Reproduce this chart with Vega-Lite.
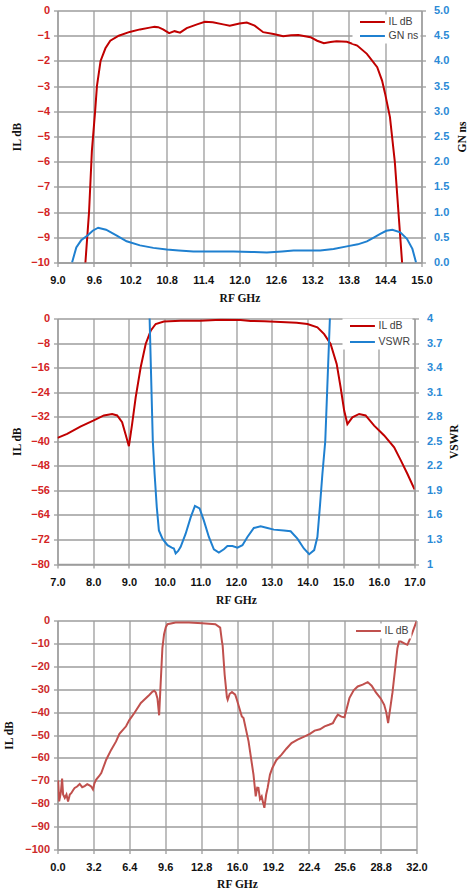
{
  "$schema": "https://vega.github.io/schema/vega-lite/v6.json",
  "background": "white",
  "padding": {"left": 3.5, "top": 4.5, "right": 0, "bottom": 0},
  "bounds": "flush",
  "spacing": 56,
  "datasets": {
    "p1il": [
      {"ghz": 9.4, "db": -12}, {"ghz": 9.46, "db": -10}, {"ghz": 9.52, "db": -8}, {"ghz": 9.567, "db": -5.56},
      {"ghz": 9.62, "db": -4}, {"ghz": 9.65, "db": -3}, {"ghz": 9.71, "db": -2}, {"ghz": 9.79, "db": -1.5},
      {"ghz": 9.87, "db": -1.2}, {"ghz": 10.01, "db": -1.0}, {"ghz": 10.19, "db": -0.85}, {"ghz": 10.36, "db": -0.75},
      {"ghz": 10.52, "db": -0.68}, {"ghz": 10.6, "db": -0.65}, {"ghz": 10.66, "db": -0.66}, {"ghz": 10.74, "db": -0.75},
      {"ghz": 10.84, "db": -0.9}, {"ghz": 10.93, "db": -0.82}, {"ghz": 11.02, "db": -0.88}, {"ghz": 11.13, "db": -0.7},
      {"ghz": 11.3, "db": -0.55}, {"ghz": 11.43, "db": -0.45}, {"ghz": 11.56, "db": -0.47}, {"ghz": 11.73, "db": -0.55},
      {"ghz": 11.84, "db": -0.6}, {"ghz": 12.0, "db": -0.52}, {"ghz": 12.12, "db": -0.48}, {"ghz": 12.25, "db": -0.6},
      {"ghz": 12.39, "db": -0.86}, {"ghz": 12.56, "db": -0.93}, {"ghz": 12.72, "db": -1.02}, {"ghz": 12.85, "db": -0.98},
      {"ghz": 12.97, "db": -0.97}, {"ghz": 13.17, "db": -1.06}, {"ghz": 13.28, "db": -1.2}, {"ghz": 13.39, "db": -1.3},
      {"ghz": 13.5, "db": -1.25}, {"ghz": 13.6, "db": -1.22}, {"ghz": 13.77, "db": -1.24}, {"ghz": 13.94, "db": -1.39},
      {"ghz": 14.1, "db": -1.72}, {"ghz": 14.27, "db": -2.25}, {"ghz": 14.35, "db": -2.78}, {"ghz": 14.4, "db": -3.3},
      {"ghz": 14.48, "db": -4.23}, {"ghz": 14.54, "db": -5.56}, {"ghz": 14.56, "db": -6}, {"ghz": 14.62, "db": -8},
      {"ghz": 14.68, "db": -10}, {"ghz": 14.72, "db": -12}
    ],
    "p1gn": [
      {"ghz": 9.24, "ns": 0}, {"ghz": 9.31, "ns": 0.3}, {"ghz": 9.39, "ns": 0.44}, {"ghz": 9.5, "ns": 0.54},
      {"ghz": 9.58, "ns": 0.63}, {"ghz": 9.67, "ns": 0.69}, {"ghz": 9.8, "ns": 0.65}, {"ghz": 9.97, "ns": 0.54},
      {"ghz": 10.14, "ns": 0.42}, {"ghz": 10.36, "ns": 0.34}, {"ghz": 10.58, "ns": 0.29}, {"ghz": 10.8, "ns": 0.26},
      {"ghz": 11.0, "ns": 0.24}, {"ghz": 11.24, "ns": 0.22}, {"ghz": 11.6, "ns": 0.22}, {"ghz": 11.9, "ns": 0.22},
      {"ghz": 12.2, "ns": 0.21}, {"ghz": 12.45, "ns": 0.2}, {"ghz": 12.7, "ns": 0.22}, {"ghz": 12.89, "ns": 0.24},
      {"ghz": 13.1, "ns": 0.24}, {"ghz": 13.33, "ns": 0.24}, {"ghz": 13.55, "ns": 0.27}, {"ghz": 13.77, "ns": 0.32},
      {"ghz": 13.95, "ns": 0.36}, {"ghz": 14.1, "ns": 0.42}, {"ghz": 14.22, "ns": 0.5}, {"ghz": 14.32, "ns": 0.57},
      {"ghz": 14.42, "ns": 0.63}, {"ghz": 14.52, "ns": 0.65}, {"ghz": 14.65, "ns": 0.6}, {"ghz": 14.76, "ns": 0.47},
      {"ghz": 14.85, "ns": 0.27}, {"ghz": 14.91, "ns": 0}
    ],
    "p2il": [
      {"ghz": 7.0, "db": -38.9}, {"ghz": 7.27, "db": -37.6}, {"ghz": 7.64, "db": -35.2}, {"ghz": 8.0, "db": -33.3},
      {"ghz": 8.3, "db": -31.6}, {"ghz": 8.53, "db": -31.1}, {"ghz": 8.67, "db": -31.6}, {"ghz": 8.81, "db": -33.8},
      {"ghz": 8.93, "db": -38.7}, {"ghz": 9.0, "db": -41.6}, {"ghz": 9.09, "db": -34.4}, {"ghz": 9.19, "db": -25.7},
      {"ghz": 9.33, "db": -15.9}, {"ghz": 9.47, "db": -8.3}, {"ghz": 9.61, "db": -4.0}, {"ghz": 9.75, "db": -1.8},
      {"ghz": 9.98, "db": -1.0}, {"ghz": 10.45, "db": -0.75}, {"ghz": 11.0, "db": -0.7}, {"ghz": 11.57, "db": -0.4},
      {"ghz": 12.13, "db": -0.5}, {"ghz": 12.41, "db": -0.8}, {"ghz": 12.8, "db": -0.9}, {"ghz": 13.25, "db": -1.1},
      {"ghz": 13.7, "db": -1.4}, {"ghz": 14.0, "db": -1.8}, {"ghz": 14.28, "db": -2.9}, {"ghz": 14.47, "db": -5.1},
      {"ghz": 14.65, "db": -8.3}, {"ghz": 14.82, "db": -14.8}, {"ghz": 14.93, "db": -22.4}, {"ghz": 15.03, "db": -30.0},
      {"ghz": 15.12, "db": -34.4}, {"ghz": 15.26, "db": -32.2}, {"ghz": 15.45, "db": -31.1}, {"ghz": 15.63, "db": -31.6},
      {"ghz": 15.87, "db": -34.9}, {"ghz": 16.15, "db": -38.1}, {"ghz": 16.43, "db": -42.0}, {"ghz": 16.62, "db": -46.3},
      {"ghz": 16.8, "db": -50.6}, {"ghz": 17.0, "db": -55.7}
    ],
    "p2vswr": [
      {"ghz": 9.57, "vswr": 4.3}, {"ghz": 9.58, "vswr": 4.0}, {"ghz": 9.67, "vswr": 2.5}, {"ghz": 9.72, "vswr": 2.1},
      {"ghz": 9.78, "vswr": 1.7}, {"ghz": 9.84, "vswr": 1.41}, {"ghz": 9.94, "vswr": 1.31}, {"ghz": 10.08, "vswr": 1.23},
      {"ghz": 10.2, "vswr": 1.2}, {"ghz": 10.26, "vswr": 1.19}, {"ghz": 10.31, "vswr": 1.13}, {"ghz": 10.38, "vswr": 1.16},
      {"ghz": 10.45, "vswr": 1.21}, {"ghz": 10.59, "vswr": 1.37}, {"ghz": 10.73, "vswr": 1.57}, {"ghz": 10.85, "vswr": 1.71},
      {"ghz": 10.98, "vswr": 1.68}, {"ghz": 11.1, "vswr": 1.53}, {"ghz": 11.24, "vswr": 1.33}, {"ghz": 11.38, "vswr": 1.18},
      {"ghz": 11.52, "vswr": 1.14}, {"ghz": 11.66, "vswr": 1.18}, {"ghz": 11.76, "vswr": 1.22}, {"ghz": 11.9, "vswr": 1.22},
      {"ghz": 12.04, "vswr": 1.2}, {"ghz": 12.18, "vswr": 1.23}, {"ghz": 12.32, "vswr": 1.33}, {"ghz": 12.5, "vswr": 1.44},
      {"ghz": 12.69, "vswr": 1.46}, {"ghz": 12.88, "vswr": 1.44}, {"ghz": 13.06, "vswr": 1.42}, {"ghz": 13.34, "vswr": 1.41},
      {"ghz": 13.53, "vswr": 1.4}, {"ghz": 13.72, "vswr": 1.31}, {"ghz": 13.9, "vswr": 1.19}, {"ghz": 14.05, "vswr": 1.12},
      {"ghz": 14.19, "vswr": 1.17}, {"ghz": 14.28, "vswr": 1.33}, {"ghz": 14.35, "vswr": 1.7}, {"ghz": 14.42, "vswr": 2.1},
      {"ghz": 14.5, "vswr": 2.5}, {"ghz": 14.63, "vswr": 4.0}, {"ghz": 14.66, "vswr": 4.4}
    ],
    "p3il": [
      {"ghz": 0.0, "db": -70}, {"ghz": 0.06, "db": -70.2}, {"ghz": 0.15, "db": -79}, {"ghz": 0.3, "db": -75},
      {"ghz": 0.41, "db": -69}, {"ghz": 0.5, "db": -76}, {"ghz": 0.65, "db": -77.5}, {"ghz": 0.8, "db": -76},
      {"ghz": 0.94, "db": -79}, {"ghz": 1.1, "db": -76}, {"ghz": 1.24, "db": -75.3}, {"ghz": 1.4, "db": -74},
      {"ghz": 1.53, "db": -73.1}, {"ghz": 1.75, "db": -72.5}, {"ghz": 1.98, "db": -71.4}, {"ghz": 2.2, "db": -72.8},
      {"ghz": 2.42, "db": -72.3}, {"ghz": 2.65, "db": -71.5}, {"ghz": 2.86, "db": -72.0}, {"ghz": 3.0, "db": -72.5},
      {"ghz": 3.16, "db": -73.8}, {"ghz": 3.3, "db": -71}, {"ghz": 3.45, "db": -69.5}, {"ghz": 3.7, "db": -68},
      {"ghz": 3.9, "db": -66.6}, {"ghz": 4.34, "db": -60.8}, {"ghz": 4.78, "db": -56.5}, {"ghz": 5.22, "db": -52.8},
      {"ghz": 5.52, "db": -49.5}, {"ghz": 6.11, "db": -46.2}, {"ghz": 6.4, "db": -43.5}, {"ghz": 6.85, "db": -40.4},
      {"ghz": 7.43, "db": -36}, {"ghz": 7.59, "db": -35.3}, {"ghz": 8.18, "db": -32.5}, {"ghz": 8.47, "db": -31.0},
      {"ghz": 8.62, "db": -30.7}, {"ghz": 8.76, "db": -31.4}, {"ghz": 8.91, "db": -34}, {"ghz": 9.06, "db": -41.4},
      {"ghz": 9.2, "db": -27}, {"ghz": 9.35, "db": -12.1}, {"ghz": 9.5, "db": -6}, {"ghz": 9.65, "db": -3},
      {"ghz": 9.8, "db": -1.6}, {"ghz": 10.53, "db": -0.9}, {"ghz": 11.72, "db": -0.9}, {"ghz": 12.9, "db": -1.2},
      {"ghz": 14.07, "db": -1.6}, {"ghz": 14.5, "db": -3.1}, {"ghz": 14.66, "db": -9.2}, {"ghz": 14.72, "db": -11},
      {"ghz": 14.9, "db": -23.7}, {"ghz": 15.1, "db": -33.5}, {"ghz": 15.17, "db": -34.6}, {"ghz": 15.35, "db": -32},
      {"ghz": 15.55, "db": -31.2}, {"ghz": 15.84, "db": -32.4}, {"ghz": 15.99, "db": -34.6}, {"ghz": 16.43, "db": -41.9},
      {"ghz": 16.58, "db": -42.6}, {"ghz": 17.03, "db": -52.8}, {"ghz": 17.47, "db": -67.3}, {"ghz": 17.67, "db": -76.8},
      {"ghz": 17.8, "db": -73}, {"ghz": 17.91, "db": -73.1}, {"ghz": 18.05, "db": -78}, {"ghz": 18.2, "db": -76.8},
      {"ghz": 18.3, "db": -79}, {"ghz": 18.44, "db": -81.8}, {"ghz": 18.6, "db": -76}, {"ghz": 18.73, "db": -73.1},
      {"ghz": 18.94, "db": -67.3}, {"ghz": 19.15, "db": -64.4}, {"ghz": 19.5, "db": -61}, {"ghz": 19.97, "db": -58.6},
      {"ghz": 20.4, "db": -56}, {"ghz": 20.86, "db": -53.5}, {"ghz": 21.4, "db": -52}, {"ghz": 22.04, "db": -50.6},
      {"ghz": 22.5, "db": -49.5}, {"ghz": 22.92, "db": -48.1}, {"ghz": 23.4, "db": -47.5}, {"ghz": 23.81, "db": -46.2},
      {"ghz": 24.2, "db": -45.5}, {"ghz": 24.55, "db": -44.8}, {"ghz": 24.8, "db": -42.5}, {"ghz": 24.99, "db": -41.1},
      {"ghz": 25.3, "db": -42}, {"ghz": 25.58, "db": -42.3}, {"ghz": 26.02, "db": -33.9}, {"ghz": 26.4, "db": -30.5},
      {"ghz": 26.76, "db": -28.8}, {"ghz": 27.2, "db": -28}, {"ghz": 27.65, "db": -26.9}, {"ghz": 28.0, "db": -28.5},
      {"ghz": 28.38, "db": -31.4}, {"ghz": 28.8, "db": -34}, {"ghz": 29.12, "db": -36.8}, {"ghz": 29.3, "db": -40},
      {"ghz": 29.47, "db": -44.8}, {"ghz": 29.86, "db": -31.4}, {"ghz": 30.3, "db": -12.1}, {"ghz": 30.45, "db": -9.2},
      {"ghz": 30.6, "db": -9.2}, {"ghz": 31.04, "db": -10.3}, {"ghz": 31.19, "db": -10.6}, {"ghz": 31.5, "db": -7},
      {"ghz": 32.0, "db": -0.4}
    ]
  },
  "vconcat": [
    {
      "width": 364,
      "height": 252,
      "encoding": {
        "x": {
          "field": "ghz", "type": "quantitative",
          "scale": {"domain": [9, 15], "nice": false, "zero": false},
          "axis": {"values": [9, 9.6, 10.2, 10.8, 11.4, 12, 12.6, 13.2, 13.8, 14.4, 15], "format": ".1f",
                   "title": "RF GHz", "labelPadding": 8, "titleY": 39, "titleBaseline": "alphabetic"}
        }
      },
      "layer": [
        {
          "data": {"name": "p1il"},
          "mark": {"type": "line", "strokeWidth": 2, "clip": true},
          "encoding": {
            "y": {
              "field": "db", "type": "quantitative",
              "scale": {"domain": [-10, 0], "nice": false, "zero": false},
              "axis": {"values": [-10, -9, -8, -7, -6, -5, -4, -3, -2, -1, 0], "format": "d", "title": "IL dB",
                       "titleX": -40, "titleBaseline": "middle", "labelColor": "#d42424", "labelPadding": 4}
            },
            "color": {
              "datum": "IL dB",
              "scale": {"domain": ["IL dB", "GN ns"], "range": ["#c00000", "#1f80d0"]},
              "legend": {"orient": "none", "legendX": 295, "legendY": 4, "title": null}
            }
          }
        },
        {
          "data": {"name": "p1gn"},
          "mark": {"type": "line", "strokeWidth": 2, "clip": true},
          "encoding": {
            "y": {
              "field": "ns", "type": "quantitative",
              "scale": {"domain": [0, 5], "nice": false, "zero": false},
              "axis": {"orient": "right", "values": [0, 0.5, 1, 1.5, 2, 2.5, 3, 3.5, 4, 4.5, 5], "format": ".1f",
                       "title": "GN ns", "titleAngle": 270, "titleX": 41, "titleBaseline": "middle",
                       "grid": false, "labelColor": "#2b8ad6", "labelPadding": 8}
            },
            "color": {"datum": "GN ns"}
          }
        }
      ],
      "resolve": {"scale": {"y": "independent"}}
    },
    {
      "width": 357,
      "height": 245.5,
      "encoding": {
        "x": {
          "field": "ghz", "type": "quantitative",
          "scale": {"domain": [7, 17], "nice": false, "zero": false},
          "axis": {"values": [7, 8, 9, 10, 11, 12, 13, 14, 15, 16, 17], "format": ".1f",
                   "title": "RF GHz", "labelPadding": 8, "titleY": 39, "titleBaseline": "alphabetic"}
        }
      },
      "layer": [
        {
          "data": {"name": "p2il"},
          "mark": {"type": "line", "strokeWidth": 2, "clip": true},
          "encoding": {
            "y": {
              "field": "db", "type": "quantitative",
              "scale": {"domain": [-80, 0], "nice": false, "zero": false},
              "axis": {"values": [-80, -72, -64, -56, -48, -40, -32, -24, -16, -8, 0], "format": "d", "title": "IL dB",
                       "titleX": -40, "titleBaseline": "middle", "labelColor": "#d42424", "labelPadding": 4}
            },
            "color": {
              "datum": "IL dB",
              "scale": {"domain": ["IL dB", "VSWR"], "range": ["#c00000", "#1f80d0"]},
              "legend": {"orient": "none", "legendX": 285, "legendY": 0, "title": null, "rowPadding": 5}
            }
          }
        },
        {
          "data": {"name": "p2vswr"},
          "mark": {"type": "line", "strokeWidth": 2, "clip": true},
          "encoding": {
            "y": {
              "field": "vswr", "type": "quantitative",
              "scale": {"domain": [1, 4], "nice": false, "zero": false},
              "axis": {"orient": "right", "values": [1, 1.3, 1.6, 1.9, 2.2, 2.5, 2.8, 3.1, 3.4, 3.7, 4], "format": "~g",
                       "title": "VSWR", "titleAngle": 270, "titleX": 40, "titleBaseline": "middle",
                       "grid": false, "labelColor": "#2b8ad6", "labelPadding": 8}
            },
            "color": {"datum": "VSWR"}
          }
        }
      ],
      "resolve": {"scale": {"y": "independent"}}
    },
    {
      "width": 359,
      "height": 229,
      "data": {"name": "p3il"},
      "mark": {"type": "line", "strokeWidth": 2, "clip": true},
      "encoding": {
        "x": {
          "field": "ghz", "type": "quantitative",
          "scale": {"domain": [0, 32], "nice": false, "zero": false},
          "axis": {"values": [0, 3.2, 6.4, 9.6, 12.8, 16, 19.2, 22.4, 25.6, 28.8, 32], "format": ".1f",
                   "title": "RF GHz", "labelPadding": 8, "titleY": 37.5, "titleBaseline": "alphabetic"}
        },
        "y": {
          "field": "db", "type": "quantitative",
          "scale": {"domain": [-100, 0], "nice": false, "zero": false},
          "axis": {"values": [-100, -90, -80, -70, -60, -50, -40, -30, -20, -10, 0], "format": "d", "title": "IL dB",
                   "titleX": -48, "titleBaseline": "middle", "labelColor": "#cc2a2a", "labelPadding": 4}
        },
        "color": {
          "datum": "IL dB",
          "scale": {"domain": ["IL dB"], "range": ["#c0504d"]},
          "legend": {"orient": "none", "legendX": 291, "legendY": 3, "title": null}
        }
      }
    }
  ],
  "resolve": {
    "scale": {"x": "independent", "y": "independent", "color": "independent"},
    "legend": {"color": "independent"}
  },
  "config": {
    "view": {"stroke": null},
    "axis": {
      "grid": true,
      "gridColor": "#9c9c9c", "gridWidth": 1.3,
      "domainColor": "#9c9c9c", "domainWidth": 1.3,
      "tickColor": "#9c9c9c", "tickSize": 4, "tickWidth": 1.3,
      "labelFont": "Liberation Sans", "labelFontSize": 11, "labelFontWeight": "bold", "labelColor": "#111111",
      "labelOverlap": false, "labelFlush": false,
      "titleFont": "Liberation Serif", "titleFontSize": 11.5, "titleFontWeight": "bold", "titleColor": "#111111"
    },
    "legend": {
      "symbolType": "M0,0H6",
      "symbolSize": 69,
      "symbolStrokeWidth": 2,
      "labelOffset": 23,
      "labelFont": "Liberation Sans",
      "labelFontSize": 10.5,
      "labelColor": "#404040",
      "fillColor": "white",
      "padding": 2,
      "rowPadding": 3
    }
  }
}
